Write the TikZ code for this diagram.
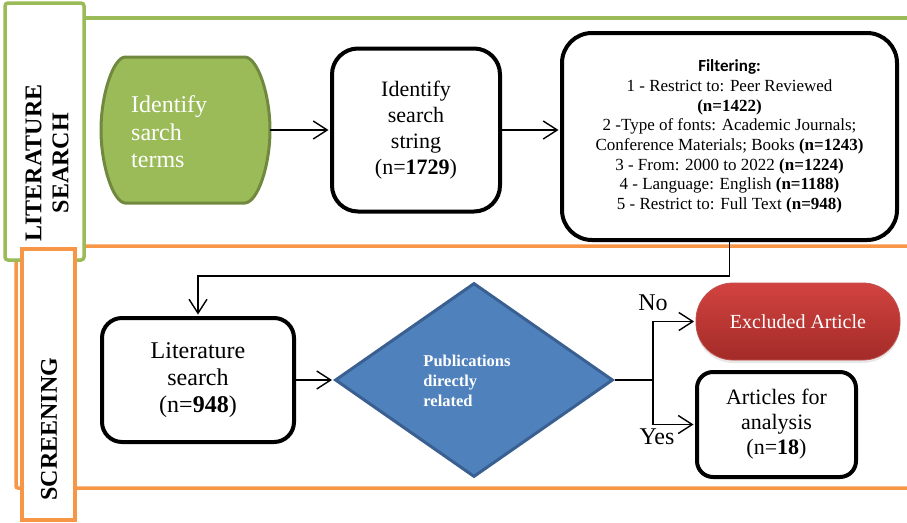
\documentclass[tikz,border=0pt]{standalone}
\usepackage{fontspec}
\setmainfont{Liberation Serif}
\newfontfamily\calibrifont{Carlito}
\usetikzlibrary{arrows.meta,shapes.geometric,shadows}
\definecolor{lsgreen}{HTML}{9BBB59}
\definecolor{lsgreendk}{HTML}{71893F}
\definecolor{scorange}{HTML}{F79646}
\definecolor{dblue}{HTML}{4F81BD}
\definecolor{dbluedk}{HTML}{3A6092}
\definecolor{redtop}{HTML}{D24340}
\definecolor{redbot}{HTML}{A32B28}
\definecolor{rededge}{HTML}{C0504D}
\tikzset{
  fs/.style 2 args={font=\fontsize{#1}{#2}\selectfont},
  flowbox/.style={draw=black, line width=4pt, fill=white, align=center, inner sep=0pt},
  conn/.style={line width=1.4pt, shorten >=1.5pt, -{Straight Barb[length=14pt,width=18pt,line width=1.4pt]}},
  plainconn/.style={line width=1.4pt},
  lanelabel/.style={rotate=90, align=center, font=\bfseries\fontsize{24}{27}\selectfont, inner sep=0pt},
}
\begin{document}
\begin{tikzpicture}[x=1pt,y=-1pt]
\useasboundingbox (0,0) rectangle (907,522);
\clip (0,0) rectangle (907,522);

% lane frames
\draw[scorange, line width=3.5pt, rounded corners=2pt] (16,246) rectangle (915,488);
\draw[lsgreen, line width=4pt] (84,18) -- (915,18);
\draw[lsgreen, line width=3.5pt, fill=white, rounded corners=3pt] (5,3) rectangle (84,260);
\draw[scorange, line width=3.5pt, fill=white] (22,249) rectangle (75,520);
\node[lanelabel] (lslabel) at (47,163) {LITERATURE\\SEARCH};
\node[lanelabel] (sclabel) at (49,429) {SCREENING};

% terminator: identify sarch terms
\draw[draw=lsgreendk, fill=lsgreen, line width=3pt]
  (125,57) -- (245,57) .. controls (258,58) and (270,95) .. (270,130)
  .. controls (270,165) and (258,202) .. (245,203) -- (125,203)
  .. controls (113,202) and (101,165) .. (101,130)
  .. controls (101,95) and (113,58) .. (125,57) -- cycle;
\coordinate (termsE) at (270,130);
\node[text=white, align=left, anchor=west, fs={24}{27.5}, inner sep=0pt] (terms) at (131,132) {Identify\\sarch\\terms};

% identify search string
\node[flowbox, rounded corners=26pt, minimum width=168pt, minimum height=163pt, fs={22}{26}] (string) at (416,130) {Identify\\search\\string\\(n=\textbf{1729})};

% filtering
\node[flowbox, rounded corners=30pt, minimum width=335pt, minimum height=207pt, fs={17}{19.7}] (filter) at (729.5,136.5)
 {{\calibrifont\bfseries Filtering:}\\
  1 - Restrict to: Peer Reviewed\\
  \textbf{(n=1422)}\\
  2 -Type of fonts: Academic Journals;\\
  Conference Materials; Books \textbf{(n=1243)}\\
  3 - From: 2000 to 2022 \textbf{(n=1224)}\\
  4 - Language: English \textbf{(n=1188)}\\
  5 - Restrict to: Full Text \textbf{(n=948)}};

% literature search
\node[flowbox, rounded corners=20pt, minimum width=192pt, minimum height=124pt, fs={24}{27}] (lit) at (198,380) {Literature\\search\\(n=\textbf{948})};

% decision diamond
\node[diamond, draw=dbluedk, fill=dblue, line width=3pt, minimum width=278pt, minimum height=194pt, inner sep=0pt] (dia) at (474,380) {};
\node[text=white, align=left, font=\bfseries\fontsize{16.5}{20}\selectfont, inner sep=0pt] (diatext) at (467,381) {Publications\\directly\\related};

% outcomes
\node[rounded corners=37pt, top color=redtop, bottom color=redbot, draw=rededge, line width=0.8pt, minimum width=204pt, minimum height=77pt, text=white, fs={20}{24},
      drop shadow={opacity=0.18, shadow xshift=0pt, shadow yshift=-3pt}] (excl) at (798,321.5) {Excluded Article};
\node[flowbox, rounded corners=16pt, minimum width=159pt, minimum height=105pt, fs={22}{25}] (art) at (776.5,424.5) {Articles for\\analysis\\(n=\textbf{18})};

\coordinate (junc) at (653,380);
\node[fs={24}{27}, inner sep=0pt] (nolab) at (653,303) {No};
\node[fs={24}{27}, inner sep=0pt] (yeslab) at (657,437) {Yes};

% connectors
\draw[conn] (termsE) -- (string.west);
\draw[conn] (string.east) -- (string.east -| filter.west);
\draw[conn] (filter.south) -- ++(0,34) -| (lit.north);
\draw[conn] (lit.east) -- (dia.west);
\draw[plainconn] (dia.east) -- (junc);
\draw[conn] (junc) |- (excl.west);
\draw[conn] (junc) |- (art.west);
\end{tikzpicture}
\end{document}
